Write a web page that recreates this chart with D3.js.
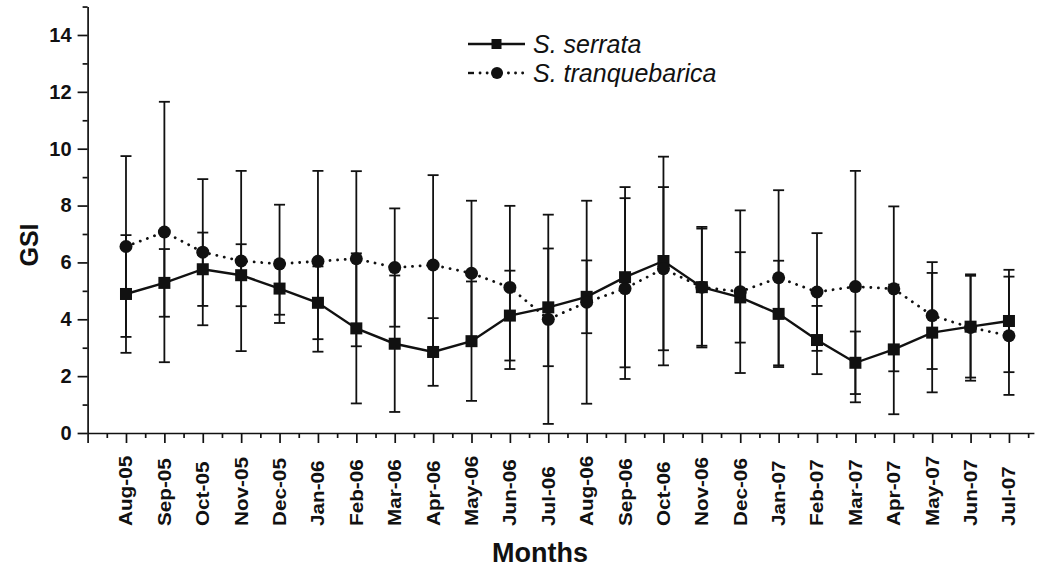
<!DOCTYPE html>
<html>
<head>
<meta charset="utf-8">
<script src="https://cdn.jsdelivr.net/npm/d3@7"></script>
<style>
  html, body { margin: 0; padding: 0; background: #fff; }
  svg { display: block; font-family: "Liberation Sans", Arial, sans-serif; }
</style>
</head>
<body>
<svg id="chart" width="1039" height="567"></svg>
<script>
const months = ["Aug-05","Sep-05","Oct-05","Nov-05","Dec-05","Jan-06","Feb-06","Mar-06","Apr-06","May-06","Jun-06","Jul-06",
                "Aug-06","Sep-06","Oct-06","Nov-06","Dec-06","Jan-07","Feb-07","Mar-07","Apr-07","May-07","Jun-07","Jul-07"];
const serrata    = [4.89,5.28,5.76,5.55,5.08,4.58,3.68,3.14,2.85,3.23,4.13,4.42,4.79,5.48,6.05,5.13,4.77,4.19,3.27,2.47,2.94,3.53,3.74,3.94];
const serrataErr = [2.07,1.19,1.29,1.09,0.92,1.28,2.64,2.40,1.19,2.10,1.58,2.07,1.28,3.17,3.67,2.12,1.59,1.87,1.20,1.10,2.28,2.10,1.79,1.80];
const tranq      = [6.56,7.07,6.36,6.05,5.95,6.04,6.13,5.82,5.91,5.62,5.12,4.00,4.60,5.08,5.78,5.13,4.97,5.46,4.96,5.15,5.07,4.13,3.71,3.42];
const tranqErr   = [3.18,4.58,2.57,3.17,2.08,3.18,3.08,2.08,3.16,2.55,2.87,3.68,3.57,3.18,2.87,2.06,2.86,3.08,2.07,4.07,2.90,1.88,1.87,2.08];
const yMajorTicks = [0,2,4,6,8,10,12,14];
const yMinorTicks = [1,3,5,7,9,11,13,15];
const seriesNames = ["S. serrata", "S. tranquebarica"];
const xTitle = "Months";
const yTitle = "GSI";

const svg = d3.select("#chart");
const ink = "#111";

const x = d3.scaleLinear().domain([-1, 23.65]).range([87.6, 87.6 + 24.65 * 38.39]);
const y = d3.scaleLinear().domain([0, 15]).range([433, 433 - 15 * 28.43]);

// axes
const gy = svg.append("g").attr("transform", `translate(${x(-1)},0)`);
gy.call(d3.axisLeft(y).tickValues(yMajorTicks).tickSize(10).tickSizeOuter(0).tickPadding(6));
gy.append("g").call(d3.axisLeft(y).tickValues(yMinorTicks).tickSize(5).tickFormat(""))
  .select(".domain").remove();
gy.selectAll("path, line").attr("stroke", ink).attr("stroke-width", 1.7);
gy.selectAll("text").attr("fill", ink).attr("font-size", 20).attr("font-weight", "bold");

const gx = svg.append("g").attr("transform", `translate(0,${y(0)})`);
gx.call(d3.axisBottom(x).tickValues(d3.range(-1, 24)).tickSize(10).tickSizeOuter(0).tickFormat(""));
gx.append("g").call(d3.axisBottom(x).tickValues(d3.range(-0.5, 23.6, 1)).tickSize(5).tickFormat(""))
  .select(".domain").remove();
gx.selectAll("path, line").attr("stroke", ink).attr("stroke-width", 1.7);

// x tick labels
svg.append("g").selectAll("text").data(months).join("text")
  .attr("transform", (d, i) => `translate(${x(i)},526) rotate(-90)`)
  .attr("dy", "0.36em")
  .attr("text-anchor", "start")
  .attr("font-size", 18).attr("font-weight", "bold").attr("fill", ink)
  .text(d => d)
  .each(function() { const L = this.getComputedTextLength(); d3.select(this).attr("textLength", L * 1.15).attr("lengthAdjust", "spacingAndGlyphs"); });

// axis titles
svg.append("text").attr("x", 540).attr("y", 562).attr("text-anchor", "middle")
  .attr("font-size", 27).attr("font-weight", "bold").attr("fill", ink).text(xTitle);
svg.append("text").attr("transform", `translate(38,245) rotate(-90)`).attr("text-anchor", "middle")
  .attr("font-size", 25).attr("font-weight", "bold").attr("fill", ink).text(yTitle);

// error bars
function errBars(vals, errs) {
  const g = svg.append("g").attr("stroke", ink).attr("stroke-width", 1.8);
  vals.forEach((v, i) => {
    const xi = x(i), y1 = y(v + errs[i]), y2 = y(v - errs[i]);
    g.append("line").attr("x1", xi).attr("x2", xi).attr("y1", y1).attr("y2", y2);
    g.append("line").attr("x1", xi - 5.5).attr("x2", xi + 5.5).attr("y1", y1).attr("y2", y1);
    g.append("line").attr("x1", xi - 5.5).attr("x2", xi + 5.5).attr("y1", y2).attr("y2", y2);
  });
}
errBars(tranq, tranqErr);
errBars(serrata, serrataErr);

const line = d3.line().x((d, i) => x(i)).y(d => y(d));
svg.append("path").datum(tranq).attr("d", line).attr("fill", "none").attr("stroke", ink)
  .attr("stroke-width", 2.8).attr("stroke-dasharray", "0.1,7.5").attr("stroke-linecap", "round");
svg.append("path").datum(serrata).attr("d", line).attr("fill", "none").attr("stroke", ink)
  .attr("stroke-width", 2.4);

svg.append("g").selectAll("rect").data(serrata).join("rect")
  .attr("x", (d, i) => x(i) - 6).attr("y", d => y(d) - 6).attr("width", 12).attr("height", 12).attr("fill", ink);
svg.append("g").selectAll("circle").data(tranq).join("circle")
  .attr("cx", (d, i) => x(i)).attr("cy", d => y(d)).attr("r", 6.5).attr("fill", ink);

// legend
const lg = svg.append("g");
lg.append("line").attr("x1", 468).attr("x2", 525).attr("y1", 44).attr("y2", 44).attr("stroke", ink).attr("stroke-width", 2.4);
lg.append("rect").attr("x", 491.5).attr("y", 39).attr("width", 10).attr("height", 10).attr("fill", ink);
lg.append("text").attr("x", 533).attr("y", 53).attr("font-size", 25).attr("font-style", "italic").attr("fill", ink).text(seriesNames[0]);
lg.append("line").attr("x1", 468).attr("x2", 474).attr("y1", 73).attr("y2", 73).attr("stroke", ink).attr("stroke-width", 2.4);
lg.append("line").attr("x1", 480).attr("x2", 526).attr("y1", 73).attr("y2", 73).attr("stroke", ink)
  .attr("stroke-width", 2.8).attr("stroke-dasharray", "0.1,7").attr("stroke-linecap", "round");
lg.append("circle").attr("cx", 497).attr("cy", 73).attr("r", 6).attr("fill", ink);
lg.append("text").attr("x", 533).attr("y", 82).attr("font-size", 25).attr("font-style", "italic").attr("fill", ink).text(seriesNames[1]);
</script>
</body>
</html>
